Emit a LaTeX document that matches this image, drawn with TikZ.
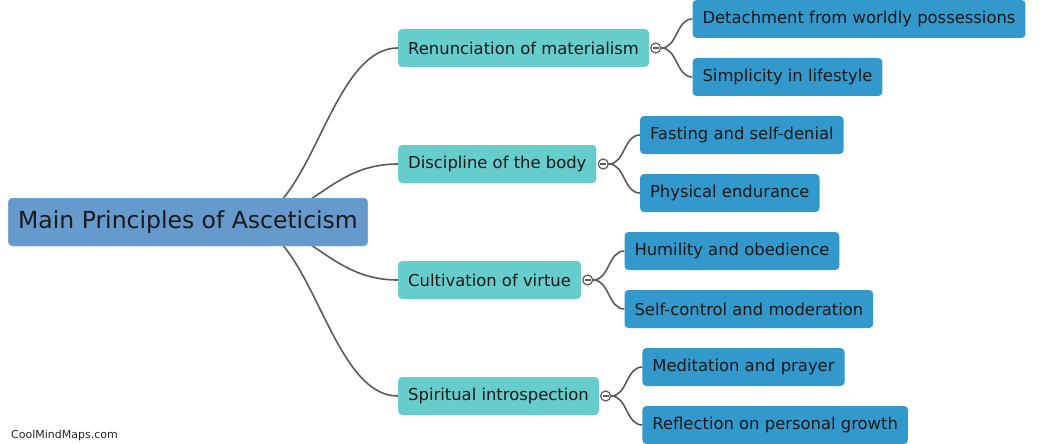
\documentclass[tikz,border=0pt]{standalone}
\usepackage{fontspec}
\setmainfont{DejaVu Sans}
\usetikzlibrary{backgrounds}
\definecolor{rootblue}{RGB}{102,153,204}
\definecolor{mainteal}{RGB}{102,204,204}
\definecolor{leafblue}{RGB}{51,153,204}
\definecolor{linegray}{RGB}{90,90,90}

\begin{document}
\begin{tikzpicture}[x=1pt,y=-1pt,
  rootbox/.style={draw=rootblue!55!white, fill=rootblue, rounded corners=4pt, anchor=west,
    minimum height=48pt, inner xsep=10pt, text=black!90, font=\fontsize{23.5}{27}\selectfont},
  mainbox/.style={fill=mainteal, rounded corners=4pt, anchor=west,
    minimum height=38pt, inner xsep=10pt, text=black!90, font=\fontsize{16.4}{19}\selectfont},
  leafbox/.style={fill=leafblue, rounded corners=4pt, anchor=west,
    minimum height=38pt, inner xsep=10pt, text=black!90, font=\fontsize{16.4}{19}\selectfont},
  knob/.style={circle, draw=linegray, fill=white, line width=1.2pt, minimum size=10pt, inner sep=0pt, anchor=west},
  link/.style={draw=linegray, line width=1.6pt}]
\useasboundingbox (0,0) rectangle (1045,444);

% root and main branches
\node[rootbox] (root) at (8,222) {Main Principles of Asceticism};
\node[mainbox] (renun) at (398,48) {Renunciation of materialism};
\node[mainbox] (disc) at (398,164) {Discipline of the body};
\node[mainbox] (cult) at (398,280) {Cultivation of virtue};
\node[mainbox] (spir) at (398,396) {Spiritual introspection};

% collapse knobs
\node[knob] (k1) at ([xshift=1]renun.east) {};
\node[knob] (k2) at ([xshift=1]disc.east) {};
\node[knob] (k3) at ([xshift=1]cult.east) {};
\node[knob] (k4) at ([xshift=1]spir.east) {};
\foreach \k in {k1,k2,k3,k4}
  \draw[linegray, line width=1.2pt] ([xshift=-3]\k.center) -- ([xshift=3]\k.center);

% leaves
\node[leafbox] (detach) at ([xshift=31,yshift=29]k1.east) {Detachment from worldly possessions};
\node[leafbox] (simple) at ([xshift=31,yshift=-29]k1.east) {Simplicity in lifestyle};
\node[leafbox] (fast) at ([xshift=31,yshift=29]k2.east) {Fasting and self-denial};
\node[leafbox] (phys) at ([xshift=31,yshift=-29]k2.east) {Physical endurance};
\node[leafbox] (humil) at ([xshift=31,yshift=29]k3.east) {Humility and obedience};
\node[leafbox] (self) at ([xshift=31,yshift=-29]k3.east) {Self-control and moderation};
\node[leafbox] (medit) at ([xshift=31,yshift=29]k4.east) {Meditation and prayer};
\node[leafbox] (refl) at ([xshift=31,yshift=-29]k4.east) {Reflection on personal growth};

\node[anchor=west, inner sep=0pt, text=black!85, font=\fontsize{11}{13}\selectfont] (credit) at (11,435) {CoolMindMaps.com};

\begin{scope}[on background layer]
\coordinate (hub) at ([xshift=-126]root.east);
\foreach \m in {renun,disc,cult,spir}
  \draw[link] (hub) .. controls ([xshift=70]hub) and ([xshift=-70]\m.west) .. (\m.west);
\draw[link] (k1.east) .. controls ([xshift=16]k1.east) and ([xshift=-16]detach.west) .. (detach.west);
\draw[link] (k1.east) .. controls ([xshift=16]k1.east) and ([xshift=-16]simple.west) .. (simple.west);
\draw[link] (k2.east) .. controls ([xshift=16]k2.east) and ([xshift=-16]fast.west) .. (fast.west);
\draw[link] (k2.east) .. controls ([xshift=16]k2.east) and ([xshift=-16]phys.west) .. (phys.west);
\draw[link] (k3.east) .. controls ([xshift=16]k3.east) and ([xshift=-16]humil.west) .. (humil.west);
\draw[link] (k3.east) .. controls ([xshift=16]k3.east) and ([xshift=-16]self.west) .. (self.west);
\draw[link] (k4.east) .. controls ([xshift=16]k4.east) and ([xshift=-16]medit.west) .. (medit.west);
\draw[link] (k4.east) .. controls ([xshift=16]k4.east) and ([xshift=-16]refl.west) .. (refl.west);
\end{scope}

\end{tikzpicture}
\end{document}
